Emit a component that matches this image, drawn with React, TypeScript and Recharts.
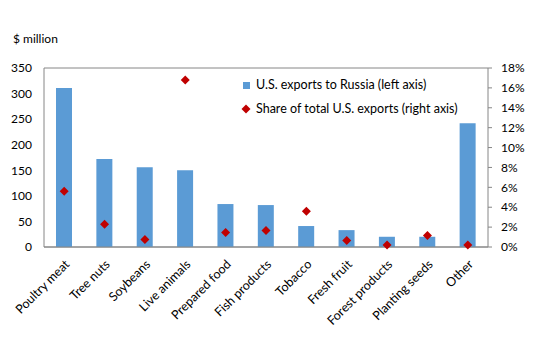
import { Bar, ComposedChart, XAxis, YAxis, CartesianGrid, Scatter } from "recharts"

const categories = ["Poultry meat", "Tree nuts", "Soybeans", "Live animals", "Prepared food", "Fish products", "Tobacco", "Fresh fruit", "Forest products", "Planting seeds", "Other"]
const exportsToRussia = [311, 172, 156, 150, 84, 82, 41, 33, 20, 20, 242]
const shareOfTotal = [5.6, 2.3, 0.75, 16.8, 1.45, 1.65, 3.6, 0.65, 0.2, 1.15, 0.2]
const leftTicks = [0, 50, 100, 150, 200, 250, 300, 350]
const rightTicks = [0, 2, 4, 6, 8, 10, 12, 14, 16, 18]

const data = categories.map((name, i) => ({ name, exports: exportsToRussia[i], share: shareOfTotal[i] }))

const FONT = "Lato, 'Open Sans', sans-serif"

const Diamond = (props: any) => {
  const { cx, cy } = props
  if (cx == null || cy == null) return null
  const r = 4.5
  return <path d={`M${cx},${cy - r}L${cx + r},${cy}L${cx},${cy + r}L${cx - r},${cy}Z`} fill="#C00000" />
}

const XTick = (props: any) => {
  const { x, y, payload } = props
  return (
    <text x={0} y={0} transform={`translate(${x + 3},${y + 7}) rotate(-45)`} textAnchor="end" fontSize={12.5} fontFamily={FONT} fill="#000" dy="0.35em">
      {payload.value}
    </text>
  )
}

const LegendBox = () => (
  <div style={{ position: "absolute", left: 241, top: 73, fontFamily: FONT, fontSize: 12.5, color: "#000", lineHeight: "24px", background: "#fff", paddingRight: 4 }}>
    <div style={{ display: "flex", alignItems: "center" }}>
      <span style={{ display: "inline-block", width: 7, height: 7, background: "#5B9BD5", marginLeft: 2, marginRight: 6 }} />
      U.S. exports to Russia (left axis)
    </div>
    <div style={{ display: "flex", alignItems: "center" }}>
      <svg width={11} height={10} style={{ marginRight: 4 }}>
        <path d="M5,0.5L9.5,5L5,9.5L0.5,5Z" fill="#C00000" />
      </svg>
      Share of total U.S. exports (right axis)
    </div>
  </div>
)

export default function App() {
  return (
    <div style={{ position: "absolute", left: 0, top: 0, width: 546, height: 343, background: "#fff" }}>
      <div style={{ position: "absolute", left: 13, top: 31, fontFamily: FONT, fontSize: 12 }}>$ million</div>
      <ComposedChart width={546} height={343} data={data} margin={{ top: 68, right: 0, bottom: 0, left: 0 }} barCategoryGap={0}>
        <CartesianGrid vertical={false} stroke="#868686" strokeWidth={1} />
        <XAxis dataKey="name" height={96} tick={<XTick />} tickLine={false} axisLine={{ stroke: "#868686" }} interval={0} />
        <YAxis yAxisId="left" width={44} domain={[0, 350]} ticks={leftTicks} interval={0} tickLine={false} axisLine={{ stroke: "#868686" }} tickMargin={6} tick={{ fontSize: 12, fontFamily: FONT, fill: "#000" }} />
        <YAxis yAxisId="right" orientation="right" width={58} domain={[0, 18]} ticks={rightTicks} interval={0} tickFormatter={(v) => `${v}%`} tickSize={4} tickLine={{ stroke: "#868686" }} tickMargin={9} axisLine={{ stroke: "#868686" }} tick={{ fontSize: 12, fontFamily: FONT, fill: "#000", textAnchor: "start" }} />
        <Bar yAxisId="left" dataKey="exports" fill="#5B9BD5" barSize={16} isAnimationActive={false} />
        <Scatter yAxisId="right" dataKey="share" shape={<Diamond />} isAnimationActive={false} />
      </ComposedChart>
      <LegendBox />
    </div>
  )
}
